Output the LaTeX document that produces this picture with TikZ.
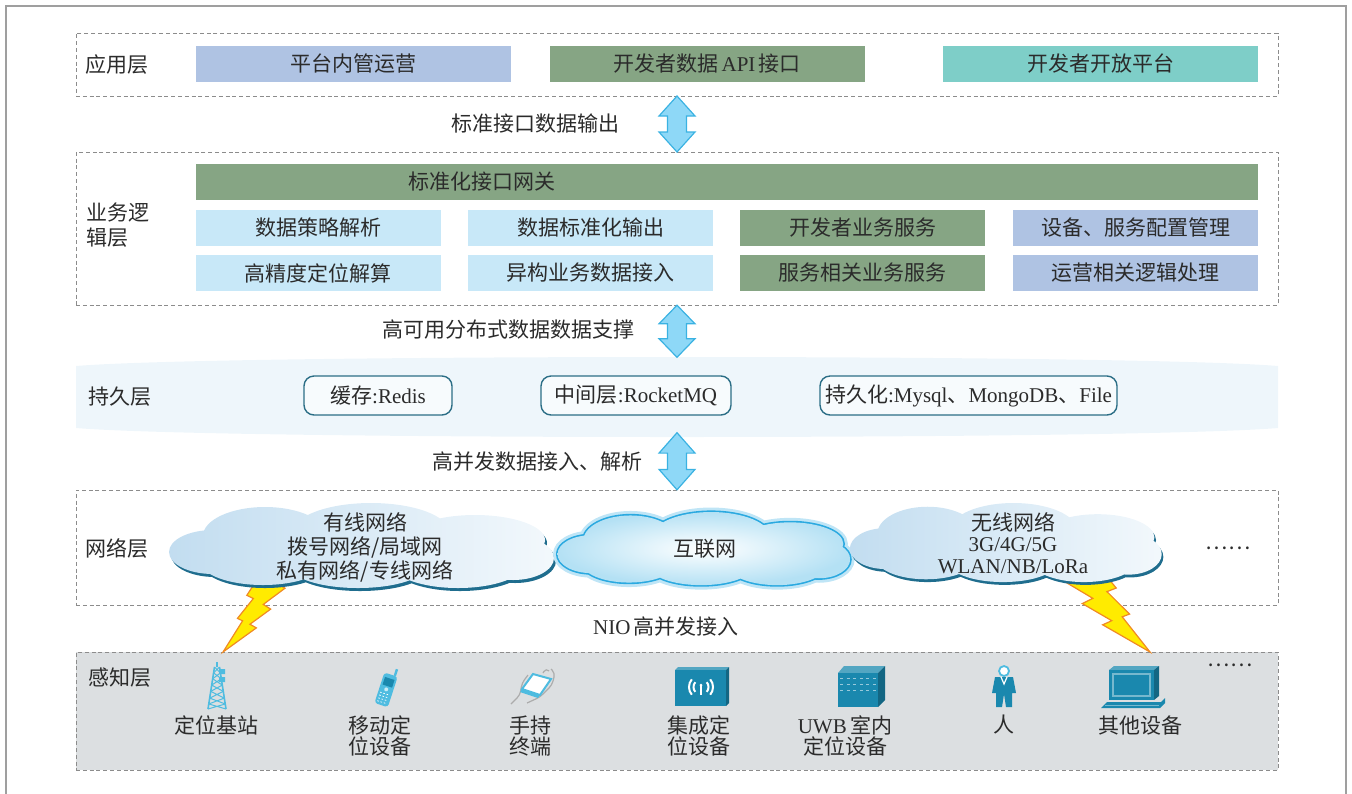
\documentclass[tikz,border=0pt]{standalone}
\usepackage{fontspec}
\setmainfont{Liberation Serif}
\newfontfamily\zhfont{Noto Sans CJK SC}
\newcommand\zh[1]{{\zhfont #1}}
\usepackage{tikz}
\usetikzlibrary{calc}

\definecolor{ink}{HTML}{2B2B2B}
\definecolor{appblue}{HTML}{AFC3E3}
\definecolor{sage}{HTML}{86A584}
\definecolor{openteal}{HTML}{7ECEC8}
\definecolor{paleblue}{HTML}{C8E8F8}
\definecolor{arrowfill}{HTML}{8ED8F7}
\definecolor{arrowline}{HTML}{3AB2E2}
\definecolor{band}{HTML}{EEF6FB}
\definecolor{boxline}{HTML}{2B6E86}
\definecolor{senseg}{HTML}{DCDFE1}
\definecolor{icon}{HTML}{1A88AE}
\definecolor{iconlt}{HTML}{4FBCE0}
\definecolor{cloudlt}{HTML}{C2DDF0}
\definecolor{cloudedge}{HTML}{1F6D8E}
\definecolor{netblue}{HTML}{2AA9E0}
\definecolor{boltfill}{HTML}{FFEB00}
\definecolor{boltline}{HTML}{F08A24}

\tikzset{
  txt/.style={font=\fontsize{10.5}{12}\selectfont, text=ink, inner sep=0pt},
  sheet/.style={draw=gray!75, line width=0.6pt},
  tier/.style={draw=gray!90, line width=0.5pt, dash pattern=on 2pt off 1.4pt, minimum width=601pt},
  cell/.style={txt, minimum height=18pt, minimum width=122.5pt},
  widecell/.style={cell, minimum width=157.5pt},
  store/.style={txt, draw=boxline, line width=0.7pt, fill=white!55!band, rounded corners=5pt, minimum height=19.5pt},
  cloudshadow/.style={fill=cloudedge, xshift=1pt, yshift=-1.5pt},
  cloudbody/.style={left color=cloudlt, right color=cloudlt!20!white},
  lift/.pic={
    \draw[fill=arrowfill, draw=arrowline, line width=0.6pt, line join=miter]
      (0,-28) -- (18,-8) -- (9.5,-8) -- (9.5,8) -- (18,8) -- (0,28)
      -- (-18,8) -- (-9.5,8) -- (-9.5,-8) -- (-18,-8) -- cycle;
  },
  puffs/.pic={
    \path[pic actions]
      (0,2) ellipse [x radius=150, y radius=30]
      (-150,6) ellipse [x radius=44, y radius=22]
      (-98,-10) ellipse [x radius=62, y radius=29]
      (8,-14) ellipse [x radius=78, y radius=29]
      (112,-6) ellipse [x radius=70, y radius=25]
      (150,12) ellipse [x radius=41, y radius=22]
      (95,18) ellipse [x radius=66, y radius=24]
      (-5,20) ellipse [x radius=68, y radius=22]
      (-100,16) ellipse [x radius=62, y radius=23];
  },
  bolt/.pic={
    \draw[fill=boltfill, draw=boltline, line width=0.6pt, line join=miter]
      (.392,0) -- (0,.182) -- (.35,.39) -- (.231,.45) -- (.565,.644) -- (.462,.691) -- (1,1)
      -- (.684,.6) -- (.767,.569) -- (.511,.314) -- (.616,.273) -- cycle;
  },
  tower/.pic={
    \draw[iconlt, line width=0.8pt] (-2.5,-20) -- (-9,22) (2.5,-20) -- (9,22) (0,-20) -- (0,-25);
    \foreach \p/\q in {0/.14,.14/.28,.28/.43,.43/.58,.58/.74,.74/.88,.88/1}
      \draw[iconlt, line width=0.5pt] ($(-2.5,-20)!\p!(-9,22)$) -- ($(2.5,-20)!\q!(9,22)$)
        ($(2.5,-20)!\p!(9,22)$) -- ($(-2.5,-20)!\q!(-9,22)$);
    \fill[iconlt] (2,-18) rectangle (8,-13) (2,-10) rectangle (8,-5);
  },
  radio/.pic={
    \fill[iconlt, rounded corners=1.5pt] (-7,-13) rectangle (7,19);
    \fill[icon] (-5,-9) rectangle (5,-1);
    \draw[iconlt, line width=1.2pt] (4,-13) -- (4,-20);
    \fill[white!70!iconlt] (0,2.5) circle (2);
    \foreach \r in {7,10,...,17}
      \draw[white, line width=0.35pt, dash pattern=on 0.8pt off 0.9pt] (-5,\r) -- (5,\r);
  },
  terminal/.pic={
    \draw[gray!65, line width=0.6pt, rounded corners=2pt]
      (-24,18) -- (-15,9) -- (-13,-3) -- (-7,-11)
      (-8,17) -- (5,11) -- (17,-1) -- (20,-13) -- (16,-17)
      (8,-13) -- (11,-18) -- (14,-15);
    \filldraw[fill=white, draw=iconlt, line width=1pt] (-13,3) -- (-2,-12) -- (16,-7) -- (5,9) -- cycle;
    \fill[iconlt] (-13,3) -- (5,9) -- (3,12) -- (-15,6) -- cycle;
  },
  beacon/.pic={
    \fill[white!25!icon] (-27,-17) -- (-24,-20) -- (27,-20) -- (24,-17) -- cycle;
    \fill[black!25!icon] (24,-17) -- (27,-20) -- (27,16) -- (24,19) -- cycle;
    \fill[icon] (-27,-17) rectangle (24,19);
    \draw[white, line width=1pt]
      (-6.75,-4.8) arc[start angle=220, end angle=140, radius=7.5]
      (-10.2,-7.7) arc[start angle=220, end angle=140, radius=12]
      (4.75,-4.8) arc[start angle=-40, end angle=40, radius=7.5]
      (8.2,-7.7) arc[start angle=-40, end angle=40, radius=12];
    \fill[white] (-1,-2) circle (1.5);
    \draw[white, line width=0.6pt] (-1,-1) -- (-1,8);
  },
  uwbbox/.pic={
    \fill[white!25!icon] (-23,-14) -- (-17,-21) -- (24,-21) -- (17,-14) -- cycle;
    \fill[black!25!icon] (17,-14) -- (24,-21) -- (24,13) -- (17,20) -- cycle;
    \fill[icon] (-23,-14) rectangle (17,20);
    \foreach \r in {-9,-3,3}
      \draw[white!55!icon, line width=0.5pt, dash pattern=on 1.5pt off 1.8pt] (-21,\r) -- (15,\r);
  },
  person/.pic={
    \fill[icon] (-9,-9) -- (9,-9) -- (12,7) -- (8,7) -- (8,21) -- (2,21) -- (0,8)
      -- (-2,21) -- (-8,21) -- (-8,7) -- (-12,7) -- cycle;
    \draw[white, line width=0.6pt] (-3,-9) -- (0,-2) -- (3,-9);
    \filldraw[fill=white, draw=iconlt, line width=0.9pt] (0,-15) circle (5);
  },
  monitor/.pic={
    \fill[white!25!icon] (-25,-17) -- (-20,-21) -- (25,-21) -- (20,-17) -- cycle;
    \fill[black!25!icon] (20,-17) -- (25,-21) -- (25,9) -- (20,13) -- cycle;
    \fill[icon] (-25,-17) rectangle (20,13);
    \draw[white!40!icon, line width=0.7pt] (-21,-13) rectangle (16,9);
    \fill[icon] (-33,21) -- (-27,15) -- (27,15) -- (31,11) -- (31,16) -- (26,21) -- cycle;
    \draw[white!40!icon, line width=0.5pt] (-29,18) -- (25,18);
  },
}

\begin{document}
\begin{tikzpicture}[x=0.5pt, y=-0.5pt]
\useasboundingbox (0,0) rectangle (1352,793);
\draw[sheet] (6,800) -- (6,6) -- (1346,6) -- (1346,800);

% five layers
\node[tier, minimum height=31.5pt] (app) at (677,64.5) {};
\node[tier, minimum height=76.5pt] (biz) at (677,228.5) {};
\fill[band] (76,366) .. controls (220,354) and (1134,354) .. (1278,366)
  -- (1278,428) .. controls (1134,440) and (220,440) .. (76,428) -- cycle;
\coordinate (keeptop) at (677,357);
\coordinate (keepbot) at (677,433);
\node[tier, minimum height=57.5pt] (net) at (677,547.5) {};
\node[tier, fill=senseg, minimum height=59pt] (sense) at (677,711) {};

\node[txt] (appname) at (117,65) {\zh{应用层}};
\node[txt, align=left] (bizname) at (118,225) {\zh{业务逻}\\[0.5pt]\zh{辑层}};
\node[txt] (keepname) at (120,397) {\zh{持久层}};
\node[txt] (netname) at (117,548) {\zh{网络层}};
\node[txt] (sensename) at (120,678) {\zh{感知层}};

% application
\node[widecell, fill=appblue] (ops) at (353.5,64) {\zh{平台内管运营}};
\node[widecell, fill=sage] (api) at (707,64) {\zh{开发者数据}\,API\,\zh{接口}};
\node[widecell, fill=openteal] (open) at (1100.5,64) {\zh{开发者开放平台}};

% business logic
\node[cell, fill=sage, minimum width=531pt] (gw) at (727,182) {};
\node[txt] (gwname) at (482,182) {\zh{标准化接口网关}};
\node[cell, fill=paleblue] (policy) at (318,227.5) {\zh{数据策略解析}};
\node[cell, fill=paleblue] (norm) at (590.5,227.5) {\zh{数据标准化输出}};
\node[cell, fill=sage] (devsvc) at (862.5,227.5) {\zh{开发者业务服务}};
\node[cell, fill=appblue] (conf) at (1135.5,227.5) {\zh{设备、服务配置管理}};
\node[cell, fill=paleblue] (solve) at (318,273) {\zh{高精度定位解算}};
\node[cell, fill=paleblue] (hetero) at (590.5,273) {\zh{异构业务数据接入}};
\node[cell, fill=sage] (svc) at (862.5,273) {\zh{服务相关业务服务}};
\node[cell, fill=appblue] (opslogic) at (1135.5,273) {\zh{运营相关逻辑处理}};

% persistence
\node[store, minimum width=74pt] (redis) at (378,395.5) {\zh{缓存}:Redis};
\node[store, minimum width=95pt] (mq) at (636,395.5) {\zh{中间层}:RocketMQ};
\node[store, minimum width=148.5pt] (db) at (968.5,395.5) {\zh{持久化}:Mysql\zh{、}MongoDB\zh{、}File};

% arrows between layers
\pic at ($(app.south)!.5!(biz.north)$) {lift};
\pic[yscale=.93] at ($(biz.south)!.5!(keeptop)$) {lift};
\pic[yscale=1.02] at ($(keepbot)!.5!(net.north)$) {lift};
\node[txt] (outname) at (535,124) {\zh{标准接口数据输出}};
\node[txt] (spreadname) at (508,330) {\zh{高可用分布式数据数据支撑}};
\node[txt] (ingestname) at (537,462) {\zh{高并发数据接入、解析}};
\node[txt] (nio) at (666,627) {NIO\,\zh{高并发接入}};

% network
\pic[xscale=-62, yscale=78] at (285,574) {bolt};
\pic[xscale=88, yscale=88] at (1062,564) {bolt};
\pic[cloudshadow] at (363,546) {puffs};
\pic[cloudbody] at (363,546) {puffs};
\pic[xscale=.76, yscale=.86, draw=netblue!30, line width=4.5pt] at (705,549) {puffs};
\pic[xscale=.76, yscale=.86, draw=netblue, line width=1.6pt] at (705,549) {puffs};
\pic[xscale=.76, yscale=.86, inner color=white, outer color=netblue!35] at (705,549) {puffs};
\pic[xscale=.81, yscale=.93, cloudshadow] at (1007,543) {puffs};
\pic[xscale=.81, yscale=.93, cloudbody] at (1007,543) {puffs};
\node[txt, align=center] (wired) at (365,547)
  {\zh{有线网络}\\\zh{拨号网络/局域网}\\\zh{私有网络/专线网络}};
\node[txt] (web) at (705,549) {\zh{互联网}};
\node[txt, align=center, font=\fontsize{10.5}{10.75}\selectfont] (wireless) at (1013,543)
  {\zh{无线网络}\\3G/4G/5G\\WLAN/NB/LoRa};
\node[txt] (netmore) at (1228,548) {\zh{……}};

% sensing devices
\pic at (217,687) {tower};
\pic[rotate=-18] at (387,687) {radio};
\pic at (535,686) {terminal};
\pic at (702,687) {beacon};
\pic at (861,687) {uwbbox};
\pic at (1004,686) {person};
\pic at (1134,687) {monitor};
\node[txt, anchor=north, align=center] (station) at (216,715) {\zh{定位基站}};
\node[txt, anchor=north, align=center] (mobile) at (380,715) {\zh{移动定}\\[-1.5pt]\zh{位设备}};
\node[txt, anchor=north, align=center] (handheld) at (530,715) {\zh{手持}\\[-1.5pt]\zh{终端}};
\node[txt, anchor=north, align=center] (integrated) at (699,715) {\zh{集成定}\\[-1.5pt]\zh{位设备}};
\node[txt, anchor=north, align=center] (uwb) at (845,715) {UWB\,\zh{室内}\\[-1.5pt]\zh{定位设备}};
\node[txt, anchor=north, align=center] (human) at (1004,715) {\zh{人}};
\node[txt, anchor=north, align=center] (other) at (1140,715) {\zh{其他设备}};
\node[txt] (sensemore) at (1230,665) {\zh{……}};
\end{tikzpicture}
\end{document}
